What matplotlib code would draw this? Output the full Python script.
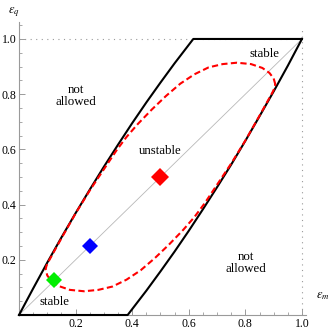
import matplotlib
matplotlib.use("Agg")
import matplotlib.pyplot as plt
from matplotlib.ticker import MultipleLocator, FormatStrFormatter

plt.rcParams['font.family'] = ['Liberation Serif', 'DejaVu Serif']
plt.rcParams['mathtext.fontset'] = 'stix'

# Left boundary of allowed region (eps_m, eps_q)
left_x = [0.0, 0.05, 0.10, 0.15, 0.20, 0.25, 0.30, 0.35, 0.40, 0.45, 0.50, 0.55, 0.616, 1.0]
left_y = [0.0, 0.096, 0.19, 0.281, 0.369, 0.454, 0.537, 0.617, 0.695, 0.77, 0.842, 0.912, 1.0, 1.0]
# Right boundary
right_x = [0.0, 0.384, 0.45, 0.50, 0.55, 0.60, 0.65, 0.70, 0.75, 0.80, 0.85, 0.90, 0.95, 1.0]
right_y = [0.0, 0.0, 0.088, 0.158, 0.23, 0.305, 0.383, 0.463, 0.545, 0.631, 0.72, 0.81, 0.903, 1.0]

# Stability boundary (red dashed closed curve)
red_x = [0.906, 0.900, 0.885, 0.860, 0.820, 0.770, 0.720, 0.670, 0.620, 0.570, 0.520, 0.470,
         0.420, 0.380, 0.345, 0.300, 0.250, 0.200, 0.150, 0.125, 0.105, 0.097,
         0.094, 0.100, 0.115, 0.140, 0.180, 0.230, 0.280, 0.330, 0.380, 0.430, 0.480,
         0.530, 0.580, 0.620, 0.655, 0.700, 0.750, 0.800, 0.850, 0.875, 0.895, 0.903, 0.906]
red_y = [0.835, 0.857, 0.877, 0.895, 0.909, 0.914, 0.909, 0.897, 0.872, 0.838, 0.794, 0.745,
         0.692, 0.645, 0.597, 0.528, 0.451, 0.368, 0.278, 0.232, 0.195, 0.178,
         0.165, 0.143, 0.123, 0.105, 0.091, 0.086, 0.091, 0.103, 0.128, 0.162, 0.206,
         0.255, 0.308, 0.355, 0.403, 0.472, 0.549, 0.632, 0.722, 0.768, 0.805, 0.822, 0.835]

diag_x = [0.0, 1.0]
diag_y = [0.0, 1.0]

pts_x = [0.5, 0.25, 0.125]
pts_y = [0.5, 0.25, 0.125]
pts_c = ['#ff0000', '#0000ff', '#00ee00']
pts_s = [9.5, 8.5, 8.5]

labels = [("not\nallowed", 0.20, 0.795), ("stable", 0.869, 0.946), ("unstable", 0.498, 0.594),
          ("stable", 0.127, 0.047), ("not\nallowed", 0.802, 0.19)]

W, H = 332, 336
fig = plt.figure(figsize=(W / 100, H / 100), dpi=100)
ax = fig.add_axes([19 / W, 21 / H, 287.2 / W, 292.6 / H])
ax.set_xlim(0, 1.015)
ax.set_ylim(0, 1.06)

gray = '#9a9a9a'
for s in ['top', 'right']:
    ax.spines[s].set_visible(False)
for s in ['left', 'bottom']:
    ax.spines[s].set_color(gray)
    ax.spines[s].set_linewidth(0.8)

ax.xaxis.set_major_locator(MultipleLocator(0.2))
ax.yaxis.set_major_locator(MultipleLocator(0.2))
ax.xaxis.set_minor_locator(MultipleLocator(0.05))
ax.yaxis.set_minor_locator(MultipleLocator(0.05))
ax.xaxis.set_major_formatter(FormatStrFormatter('%.1f'))
ax.yaxis.set_major_formatter(FormatStrFormatter('%.1f'))
ax.tick_params(which='major', direction='in', length=4, width=0.7, color=gray, labelsize=8.5, pad=2)
ax.tick_params(which='minor', direction='in', length=2, width=0.6, color=gray)
ax.set_xticks([0.2, 0.4, 0.6, 0.8, 1.0])
ax.set_yticks([0.2, 0.4, 0.6, 0.8, 1.0])

# dotted reference lines
ax.plot([0, 1.0], [1.0, 1.0], color=gray, lw=0.8, ls=(0, (1, 4)), clip_on=False)
ax.plot([1.0, 1.0], [0, 1.04], color=gray, lw=0.8, ls=(0, (1, 4)), clip_on=False)

ax.plot(diag_x, diag_y, color='#b8b8b8', lw=0.6, zorder=2)
ax.plot(left_x, left_y, color='black', lw=1.5, zorder=3, clip_on=False, solid_joinstyle='round')
ax.plot(right_x, right_y, color='black', lw=1.5, zorder=3, clip_on=False, solid_joinstyle='round')
ax.plot(red_x, red_y, color='#ff0000', lw=1.5, dashes=(3, 1.6), zorder=4, solid_joinstyle='round')

for x, y, c, s in zip(pts_x, pts_y, pts_c, pts_s):
    ax.plot([x], [y], marker='D', color=c, markersize=s, markeredgewidth=0, zorder=5)

for t, x, y in labels:
    ax.text(x, y, t, ha='center', va='center', fontsize=9.3, linespacing=1.0)

fig.text(323 / W, 1 - 296 / H, r'$\epsilon_m$', ha='center', va='center', fontsize=9)
fig.text(14 / W, 1 - 12 / H, r'$\epsilon_q$', ha='center', va='center', fontsize=9)

fig.savefig('out.png', dpi=100)
